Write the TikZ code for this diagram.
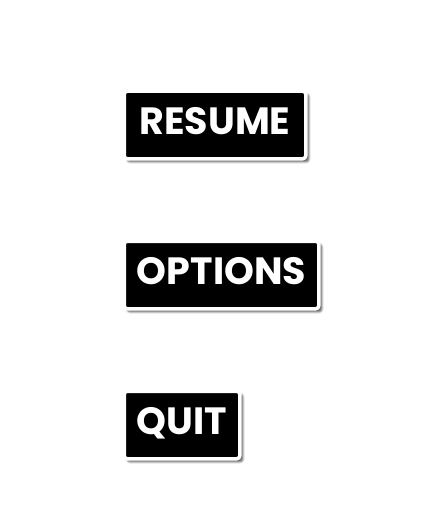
\documentclass[tikz,border=0pt]{standalone}
\usepackage{fontspec}
\setmainfont{Poppins}
\usetikzlibrary{shadows.blur}

\tikzset{
  button/.style={fill=black, draw=white, line width=3.5pt, rounded corners=3pt,
    minimum height=67.5pt, inner sep=0pt, text=white,
    text height=26.5pt, text depth=8.5pt,
    font=\fontsize{38}{38}\selectfont\bfseries,
    blur shadow={shadow xshift=3pt, shadow yshift=-3pt, shadow blur steps=6,
      shadow blur extra rounding=2pt, shadow opacity=70}}
}

\begin{document}
\begin{tikzpicture}[x=1pt,y=-1pt]
\useasboundingbox (0,0) rectangle (437,532);

\node [button, minimum width=181.5pt] (resume) at (215,125) {RESUME};

\node [button, minimum width=194.5pt] (options) at (221.5,275) {OPTIONS};

\node [button, minimum width=115.5pt] (quit) at (182,425) {QUIT};

\end{tikzpicture}
\end{document}
